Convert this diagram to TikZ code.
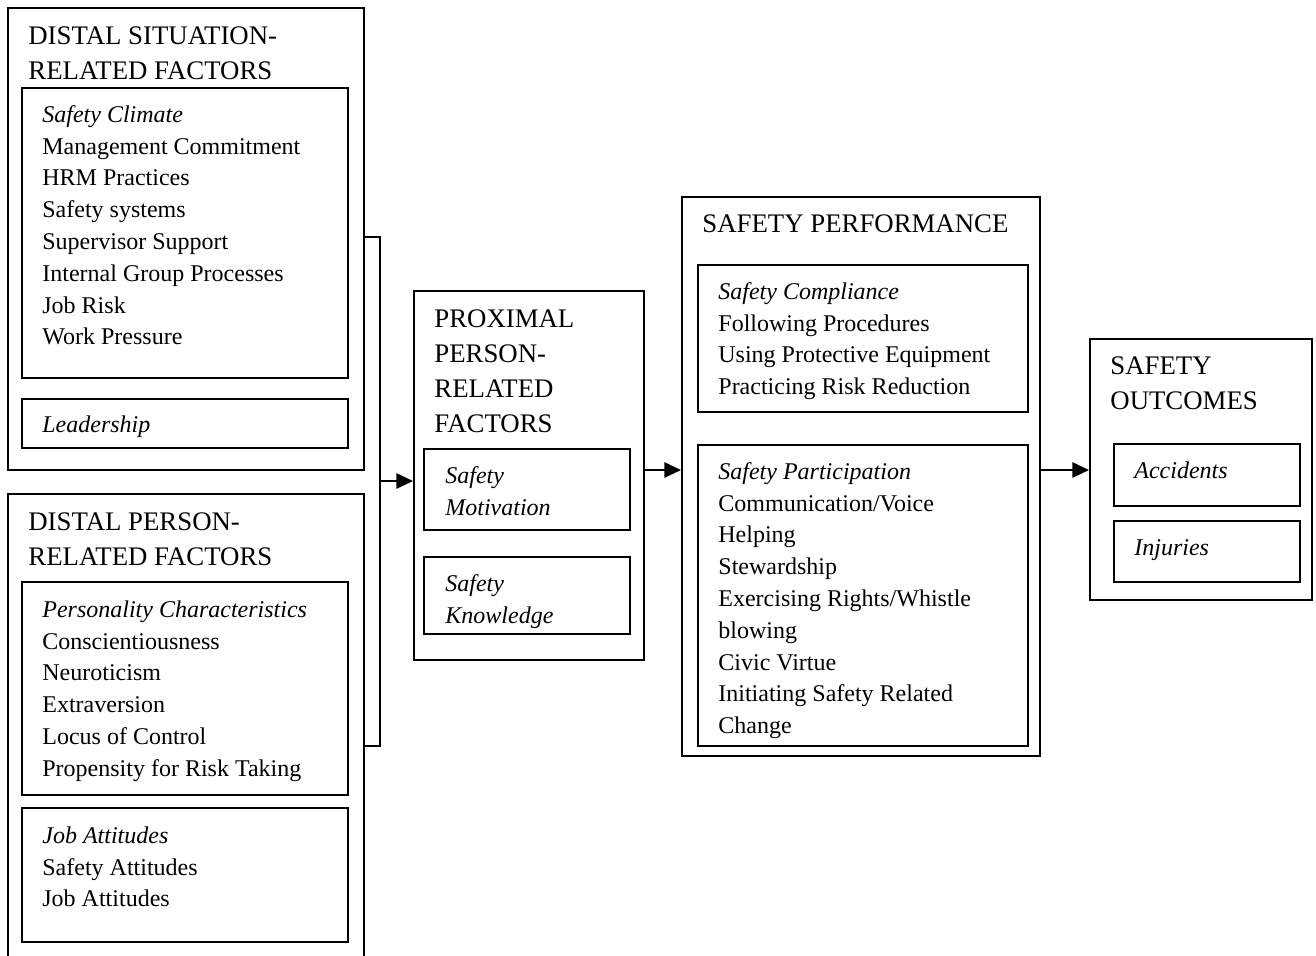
\documentclass[tikz,border=0pt]{standalone}
\usepackage{fontspec}
\setmainfont{Liberation Serif}
\usetikzlibrary{fit,arrows.meta}
\tikzset{
  box/.style={draw, line width=1pt, inner sep=0pt, fit={#1}},
  conn/.style={line width=1pt},
  arr/.style={line width=1pt, -{Triangle[length=8.3pt,width=7.6pt]}},
  body/.style={anchor=north west, inner sep=0pt, align=left, font=\fontsize{12pt}{15.9pt}\selectfont},
  head/.style={anchor=north west, inner sep=0pt, align=left, font=\fontsize{13.4pt}{17.5pt}\selectfont},
}
\begin{document}
\begin{tikzpicture}[x=0.5pt,y=-0.5pt]
\useasboundingbox (0,0) rectangle (1316,955);
% ---- Distal situation-related factors
\node[box={(8,8)(364,470)}] (ds) {};
\node[head] (dsT) at (28,44-24.5) {\strut DISTAL SITUATION-\\RELATED FACTORS};
\node[box={(22,88)(348,378)}] (sc) {};
\node[body] (scT) at (42,122-22.3) {\strut\textit{Safety Climate}\\Management Commitment\\HRM Practices\\Safety systems\\Supervisor Support\\Internal Group Processes\\Job Risk\\Work Pressure};
\node[box={(22,399)(348,448)}] (ld) {};
\node[body] (ldT) at (42,432-22.3) {\strut\textit{Leadership}};
% ---- Distal person-related factors (open at the bottom)
\coordinate (dpA) at (8,960);
\coordinate (dpB) at (8,494);
\coordinate (dpC) at (364,494);
\coordinate (dpD) at (364,960);
\draw[conn] (dpA) -- (dpB) -- (dpC) -- (dpD);
\node[head] (dpT) at (28,530-24.5) {\strut DISTAL PERSON-\\RELATED FACTORS};
\node[box={(22,582)(348,795)}] (pc) {};
\node[body] (pcT) at (42,617-22.3) {\strut\textit{Personality Characteristics}\\Conscientiousness\\Neuroticism\\Extraversion\\Locus of Control\\Propensity for Risk Taking};
\node[box={(22,808)(348,942)}] (ja) {};
\node[body] (jaT) at (42,843-22.3) {\strut\textit{Job Attitudes}\\Safety Attitudes\\Job Attitudes};
% ---- Proximal person-related factors
\node[box={(414,291)(644,660)}] (pp) {};
\node[head] (ppT) at (434,327-24.5) {\strut PROXIMAL\\PERSON-\\RELATED\\FACTORS};
\node[box={(424,449)(630,530)}] (sm) {};
\node[body] (smT) at (445,483-22.3) {\strut\textit{Safety}\\\textit{Motivation}};
\node[box={(424,557)(630,634)}] (sk) {};
\node[body] (skT) at (445,591-22.3) {\strut\textit{Safety}\\\textit{Knowledge}};
% ---- Safety performance
\node[box={(682,197)(1040,756)}] (sp) {};
\node[head] (spT) at (702,232-24.5) {\strut SAFETY PERFORMANCE};
\node[box={(698,265)(1028,412)}] (scp) {};
\node[body] (scpT) at (718,299-22.3) {\strut\textit{Safety Compliance}\\Following Procedures\\Using Protective Equipment\\Practicing Risk Reduction};
\node[box={(698,445)(1028,746)}] (spa) {};
\node[body] (spaT) at (718,479-22.3) {\strut\textit{Safety Participation}\\Communication/Voice\\Helping\\Stewardship\\Exercising Rights/Whistle\\blowing\\Civic Virtue\\Initiating Safety Related\\Change};
% ---- Safety outcomes
\node[box={(1090,339)(1312,600)}] (so) {};
\node[head] (soT) at (1110,374-24.5) {\strut SAFETY\\OUTCOMES};
\node[box={(1114,444)(1300,506)}] (ac) {};
\node[body] (acT) at (1134,478-22.3) {\strut\textit{Accidents}};
\node[box={(1114,521)(1300,582)}] (in) {};
\node[body] (inT) at (1134,555-22.3) {\strut\textit{Injuries}};
% ---- connectors
\coordinate (brT) at (380,237);
\coordinate (brB) at (380,746);
\coordinate (brM) at (380,481);
\draw[conn] (ds.east |- brT) -- (brT) -- (brB) -- (dpD |- brB);
\draw[arr] (brM) -- (pp.west |- brM);
\coordinate (a2) at (644,470);
\draw[arr] (pp.east |- a2) -- (sp.west |- a2);
\coordinate (a3) at (1040,470);
\draw[arr] (sp.east |- a3) -- (so.west |- a3);
\end{tikzpicture}
\end{document}
